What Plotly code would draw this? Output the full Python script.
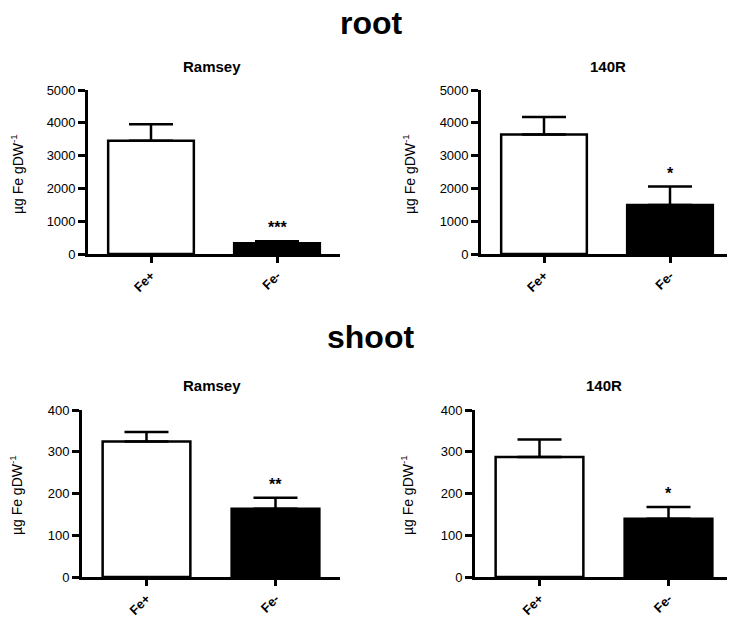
import plotly.graph_objects as go

categories = ["Fe+", "Fe-"]
tick_labels = ["<b>Fe+</b>", "<b>Fe-</b>"]

root_ramsey = [3460, 330]
root_ramsey_err = [500, 60]
root_140r = [3650, 1500]
root_140r_err = [530, 560]

shoot_ramsey = [325, 164]
shoot_ramsey_err = [23, 26]
shoot_140r = [288, 140]
shoot_140r_err = [42, 28]

stars = [["", "***"], ["", "*"], ["", "**"], ["", "*"]]
panel_titles = ["Ramsey", "140R", "Ramsey", "140R"]
y_ranges = [[0, 5000], [0, 5000], [0, 400], [0, 400]]
y_dtick = [1000, 1000, 100, 100]

W, H = 735, 620
OFF = 8  # page margin in front of the plot div
font = "Arial, Liberation Sans, sans-serif"


def px(s):
    return (s - OFF) / W


def py(s):
    return 1 - (s - OFF) / H


# plot boxes in screen pixels: (left, right, top, bottom)
boxes = [(88, 340, 85, 253), (481, 733, 85, 253),
         (82, 340, 413, 584), (475, 733, 413, 584)]
title_pos = [(212, 61), (608, 61), (212, 388), (604, 388)]
ytitle_pos = [(17, 171), (409, 171), (16, 500), (407, 500)]

panels = [
    (root_ramsey, root_ramsey_err),
    (root_140r, root_140r_err),
    (shoot_ramsey, shoot_ramsey_err),
    (shoot_140r, shoot_140r_err),
]

fig = go.Figure()
annotations = []

for i, ((vals, errs), box) in enumerate(zip(panels, boxes)):
    n = "" if i == 0 else str(i + 1)
    xa, ya = "x" + n, "y" + n
    left, right, top, bottom = box
    fig.add_trace(
        go.Bar(
            x=categories,
            y=vals,
            xaxis=xa,
            yaxis=ya,
            width=0.68,
            marker=dict(color=["white", "black"], line=dict(color="black", width=2.5)),
            error_y=dict(
                type="data",
                symmetric=False,
                array=errs,
                arrayminus=[0, 0],
                color="black",
                thickness=2.5,
                width=22,
            ),
            showlegend=False,
        )
    )
    fig.update_layout(**{
        "xaxis" + n: dict(
            domain=[px(left), px(right)],
            anchor=ya,
            range=[-0.5, 1.5],
            showline=True,
            linecolor="black",
            linewidth=2.7,
            ticks="outside",
            ticklen=6,
            tickwidth=2.5,
            tickcolor="black",
            tickangle=-45,
            tickvals=categories,
            ticktext=tick_labels,
            tickfont=dict(size=13, color="black", family=font),
            showgrid=False,
            zeroline=False,
        ),
        "yaxis" + n: dict(
            domain=[py(bottom), py(top)],
            anchor=xa,
            range=y_ranges[i],
            dtick=y_dtick[i],
            showline=True,
            linecolor="black",
            linewidth=2.7,
            ticks="outside",
            ticklen=7,
            tickwidth=2.5,
            tickcolor="black",
            tickfont=dict(size=13, color="black", family=font),
            showgrid=False,
            zeroline=False,
        ),
    })
    # significance stars
    for c, v, e, s in zip(categories, vals, errs, stars[i]):
        if s:
            annotations.append(dict(
                x=c, y=v + e, xref=xa, yref=ya, text="<b>%s</b>" % s,
                showarrow=False, yanchor="bottom", yshift=3,
                font=dict(size=16, color="black", family=font),
            ))
    # panel title
    tx, ty = title_pos[i]
    annotations.append(dict(
        x=px(tx), y=py(ty), xref="paper", yref="paper",
        text="<b>%s</b>" % panel_titles[i],
        showarrow=False, xanchor="center", yanchor="middle",
        font=dict(size=15, color="black", family=font),
    ))
    # y axis title
    ax, ay = ytitle_pos[i]
    annotations.append(dict(
        x=px(ax), y=py(ay), xref="paper", yref="paper",
        text="µg Fe gDW<sup>-1</sup>",
        textangle=-90, showarrow=False, xanchor="center", yanchor="middle",
        font=dict(size=14, color="black", family=font),
    ))

for txt, sx, sy in [("root", 371, 16), ("shoot", 370, 338)]:
    annotations.append(dict(
        x=px(sx), y=py(sy), xref="paper", yref="paper",
        text="<b>%s</b>" % txt, showarrow=False,
        xanchor="center", yanchor="middle",
        font=dict(size=32, color="black", family=font),
    ))

fig.update_layout(
    width=W,
    height=H,
    margin=dict(l=0, r=0, t=0, b=0),
    plot_bgcolor="white",
    paper_bgcolor="white",
    annotations=annotations,
)

fig.write_html("out.html")
